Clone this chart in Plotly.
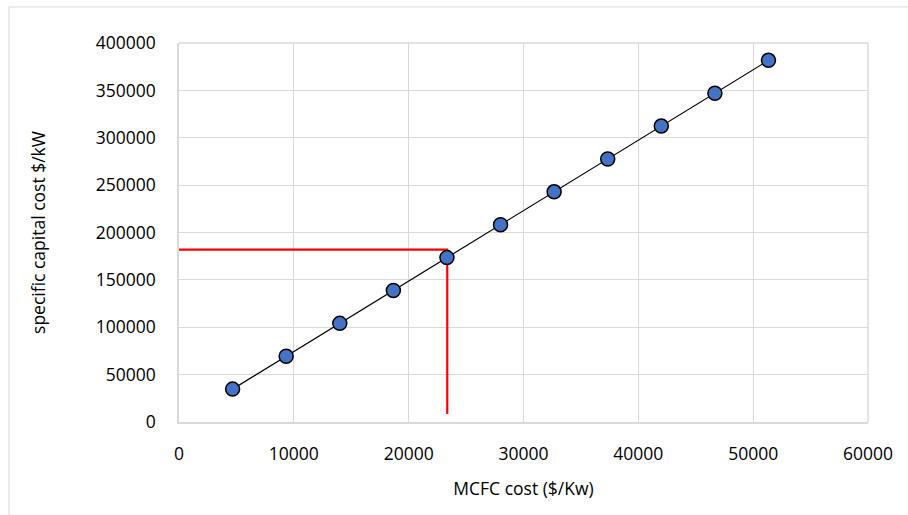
import plotly.graph_objects as go

# Data
mcfc_cost = [4667, 9333, 14000, 18667, 23333, 28000, 32667, 37333, 42000, 46667, 51333]
capital_cost = [34700, 69400, 104100, 138800, 173500, 208200, 242900, 277600, 312300, 347000, 381700]

# Red guide lines (read-off point)
guide_x = [0, 23360, 23360]
guide_y = [182000, 182000, 8500]

x_ticks = [0, 10000, 20000, 30000, 40000, 50000, 60000]
y_ticks = [0, 50000, 100000, 150000, 200000, 250000, 300000, 350000, 400000]

FONT = "Open Sans"
GRID = "#d9d9d9"

fig = go.Figure()
fig.add_trace(go.Scatter(
    x=guide_x, y=guide_y, mode="lines",
    line=dict(color="#ff0000", width=2.2), hoverinfo="skip", showlegend=False,
))
fig.add_trace(go.Scatter(
    x=mcfc_cost, y=capital_cost, mode="lines+markers",
    line=dict(color="black", width=1.2),
    marker=dict(size=14, color="#4472C4", line=dict(color="black", width=1.5)),
    showlegend=False,
))

fig.update_layout(
    width=908, height=515,
    margin=dict(l=179, r=40, t=43, b=93, autoexpand=False),
    paper_bgcolor="white", plot_bgcolor="white",
    font=dict(family=FONT, size=17.5, color="#000000"),
    shapes=[dict(type="rect", xref="paper", yref="paper",
                 x0=-0.2467, x1=1.2, y0=-0.4, y1=1.095,
                 line=dict(color="#d9d9d9", width=1), layer="below")],
)
fig.update_xaxes(
    range=[0, 60000], tickvals=x_ticks, ticktext=[str(v) for v in x_ticks],
    showgrid=True, gridcolor=GRID, gridwidth=1.4,
    showline=True, linecolor=GRID, linewidth=1.5, mirror=False,
    zeroline=False, ticks="", ticklabelstandoff=15,
    title=dict(text="MCFC cost ($/Kw)", standoff=19, font=dict(size=17.5)),
    automargin=False,
)
fig.update_yaxes(
    range=[0, 400000], tickvals=y_ticks, ticktext=[str(v) for v in y_ticks],
    showgrid=True, gridcolor=GRID, gridwidth=1.4,
    showline=True, linecolor=GRID, linewidth=1.5,
    zeroline=False, ticks="", ticklabelstandoff=18,
    title=dict(text="specific capital cost $/kW", standoff=46, font=dict(size=17.5)),
    automargin=False,
)
# right and top border of plot area
fig.add_shape(type="line", xref="paper", yref="paper", x0=1, x1=1, y0=0, y1=1,
              line=dict(color=GRID, width=1.4), layer="below")
fig.add_shape(type="line", xref="paper", yref="paper", x0=0, x1=1, y0=1, y1=1,
              line=dict(color=GRID, width=1.4), layer="below")

fig.write_html("out.html")
